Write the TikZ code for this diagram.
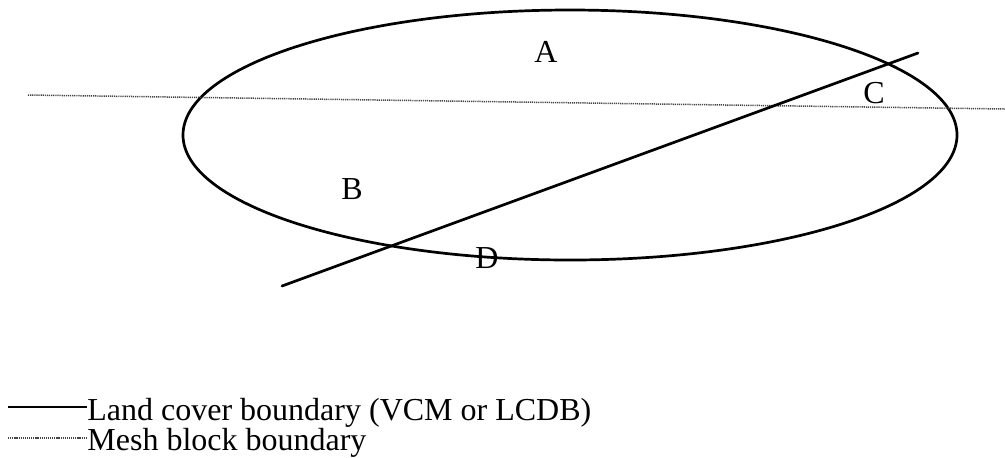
\documentclass[tikz,border=0pt]{standalone}
\usepackage{fontspec}
\setmainfont{Liberation Serif}
\usetikzlibrary{positioning}
\definecolor{meshGrey}{HTML}{444444}

\begin{document}
\begin{tikzpicture}[x=0.5pt, y=-0.5pt,
    coverline/.style={line width=1.35pt, black, line cap=round},
    meshline/.style={line width=0.75pt, meshGrey, dash pattern=on 0.6pt off 0.45pt},
    region/.style={font=\fontsize{16}{18}\selectfont, inner sep=0pt},
    legendtext/.style={font=\fontsize{16}{18}\selectfont, anchor=base west, inner sep=0pt}]
  \useasboundingbox (0,0) rectangle (1005,457);

  % area boundary
  \coordinate (areaC) at (570,135);
  \draw[coverline] (areaC) ellipse [x radius=193.5pt, y radius=62.5pt];

  % mesh block and land cover boundaries
  \coordinate (meshW) at (28,95);
  \coordinate (meshE) at (1005,109);
  \draw[meshline] (meshW) -- (meshE);
  \coordinate (coverSW) at (282,286);
  \coordinate (coverNE) at (918,53);
  \draw[coverline] (coverSW) -- (coverNE);

  \node[region] (regA) at (546,52) {A};
  \node[region] (regB) at (352,189) {B};
  \node[region] (regC) at (874,93) {C};
  \node[region] (regD) at (487,258) {D};

  % legend
  \coordinate (keyCover) at (8,407);
  \node[legendtext] (txtCover) at (87,420) {Land cover boundary (VCM or LCDB)};
  \draw[coverline, line cap=butt] (keyCover) -- (keyCover -| txtCover.west);
  \coordinate (keyMesh) at (8,438);
  \node[legendtext] (txtMesh) at (87,450) {Mesh block boundary};
  \draw[meshline] (keyMesh) -- (keyMesh -| txtMesh.west);
\end{tikzpicture}
\end{document}
